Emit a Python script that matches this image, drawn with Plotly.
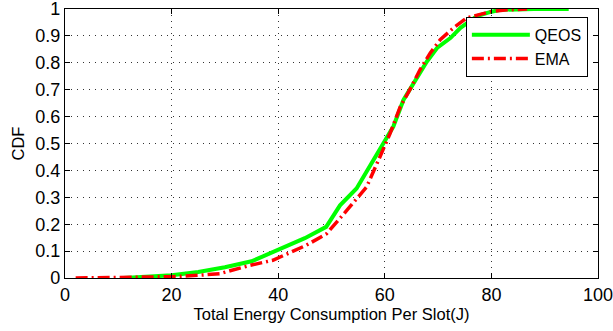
import plotly.graph_objects as go

qeos_x = [11, 15, 20, 25, 30, 35, 40, 45, 49, 51.6, 54.7, 57.2, 59.7, 61.6, 63.5, 65.4, 67.9, 69.8, 72.3, 74.2, 77.3, 80, 81.7, 88, 94.5]
qeos_y = [0, 0.003, 0.01, 0.022, 0.04, 0.062, 0.103, 0.148, 0.19, 0.27, 0.333, 0.414, 0.50, 0.563, 0.662, 0.724, 0.805, 0.855, 0.892, 0.93, 0.974, 0.99, 0.997, 1, 1]

ema_x = [2, 10, 20, 25, 29, 34.7, 39, 45.3, 49.1, 52.9, 56.6, 59.1, 61, 62.9, 64.7, 66.6, 68.5, 70.4, 72.9, 75.4, 79.8, 83, 86.7]
ema_y = [0, 0.001, 0.005, 0.01, 0.016, 0.047, 0.066, 0.122, 0.165, 0.252, 0.339, 0.451, 0.538, 0.637, 0.70, 0.774, 0.836, 0.886, 0.93, 0.967, 0.99, 0.997, 1]

x_ticks = [0, 20, 40, 60, 80, 100]
y_ticks = [0, 0.1, 0.2, 0.3, 0.4, 0.5, 0.6, 0.7, 0.8, 0.9, 1]
y_labels = ["0", "0.1", "0.2", "0.3", "0.4", "0.5", "0.6", "0.7", "0.8", "0.9", "1"]

fig = go.Figure()
fig.add_trace(go.Scatter(x=qeos_x, y=qeos_y, mode="lines", name="QEOS",
                         line=dict(color="#00ff00", width=4)))
fig.add_trace(go.Scatter(x=ema_x, y=ema_y, mode="lines", name="EMA",
                         line=dict(color="#ff0000", width=3.5, dash="12px,4px,2px,4px")))

axis_common = dict(showline=True, linecolor="black", linewidth=1.2, mirror="ticks",
                   ticks="inside", ticklen=5, tickcolor="black",
                   showgrid=True, gridcolor="rgba(0,0,0,0.8)", griddash="1px,5px", gridwidth=1,
                   zeroline=False, automargin=False, ticklabeloverflow="allow",
                   tickfont=dict(size=18, color="black"))

fig.update_layout(
    width=613, height=331,
    margin=dict(l=65, r=15, t=9, b=53),
    paper_bgcolor="white", plot_bgcolor="white",
    font=dict(family="Liberation Sans, Arial, sans-serif", size=17, color="black"),
    xaxis=dict(range=[0, 100], tickvals=x_ticks, title=dict(text="Total Energy Consumption Per Slot(J)", standoff=3, font=dict(size=16.5)), **axis_common),
    yaxis=dict(range=[0, 1], tickvals=y_ticks, ticktext=y_labels, title=dict(text="CDF", standoff=6, font=dict(size=16.5)), **axis_common),
    legend=dict(x=0.981, y=0.971, xanchor="right", yanchor="top",
                bordercolor="black", borderwidth=1, bgcolor="white",
                font=dict(size=16), itemwidth=58, tracegroupgap=0),
    showlegend=True,
)

fig.write_html("out.html", config={"displayModeBar": False},
               post_script="document.body.style.margin='0';document.body.style.overflow='hidden';")
